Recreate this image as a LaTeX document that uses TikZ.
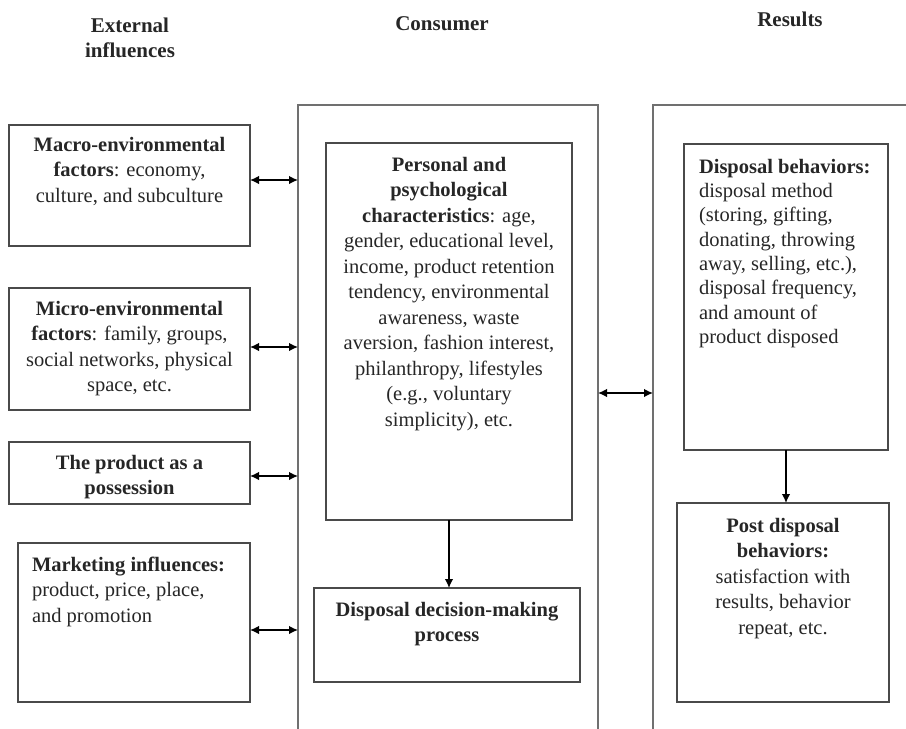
\documentclass[tikz,border=0pt]{standalone}
\usepackage{fontspec}
\setmainfont{Liberation Serif}
\usetikzlibrary{arrows.meta}
\definecolor{boxline}{HTML}{4A4A4A}
\definecolor{bigline}{HTML}{707070}
\definecolor{txtcol}{HTML}{262626}
\begin{document}
\begin{tikzpicture}[x=1pt,y=-1pt,
  every node/.style={inner sep=0pt, outer sep=0pt},
  bx/.style={draw=boxline, line width=1.3pt, rectangle},
  region/.style={rectangle},
  txt/.style={text=txtcol, font=\fontsize{20.5}{25.5}\selectfont, align=center, anchor=north},
  ltxt/.style={text=txtcol, font=\fontsize{20.5}{25.5}\selectfont, align=left, anchor=north west},
  head/.style={text=txtcol, font=\fontsize{21}{25}\selectfont\bfseries, align=center, anchor=north},
  dbl/.style={draw=black, line width=1.4pt, {Latex[length=9pt,width=8.5pt]}-{Latex[length=9pt,width=8.5pt]}},
  sgl/.style={draw=black, line width=1.4pt, -{Latex[length=9pt,width=8.5pt]}},
  bigside/.style={draw=bigline, line width=1.6pt}
]
\useasboundingbox (0,0) rectangle (906,729);

% headers
\node[head] (hext) at (130,18) {External\\influences};
\node[head] (hcons) at (442,17) {Consumer};
\node[head] (hres) at (790,12) {Results};

% big regions
\node[region, minimum width=300pt, minimum height=624pt] (cons) at (448,417) {};
\node[region, minimum width=260pt, minimum height=624pt] (res) at (783,417) {};
\draw[bigside] (cons.south west) -- (cons.north west) -- (cons.north east) -- (cons.south east);
\draw[bigside] (res.south west) -- (res.north west) -- (res.north east);

% left boxes
\node[bx, minimum width=241pt, minimum height=121pt] (macro) at (129.5,185.5) {};
\node[bx, minimum width=241pt, minimum height=122pt] (micro) at (129.5,349) {};
\node[bx, minimum width=241pt, minimum height=62pt] (prod) at (129.5,473) {};
\node[bx, minimum width=232pt, minimum height=159pt] (mkt) at (134,622.5) {};

\node[txt] (macrot) at ([yshift=-12pt]macro.north) {\textbf{Macro-environmental}\\\textbf{factors}: economy,\\culture, and subculture};
\node[txt] (microt) at ([yshift=-13pt]micro.north) {\textbf{Micro-environmental}\\\textbf{factors}: family, groups,\\social networks, physical\\space, etc.};
\node[txt] (prodt) at ([yshift=-13pt]prod.north) {\textbf{The product as a}\\\textbf{possession}};
\node[ltxt] (mktt) at ([xshift=14pt,yshift=-14pt]mkt.north west) {\textbf{Marketing influences:}\\product, price, place,\\and promotion};

% consumer boxes
\node[bx, minimum width=246pt, minimum height=377pt] (pers) at (449,331.5) {};
\node[bx, minimum width=266pt, minimum height=94pt] (dec) at (447,635) {};
\node[txt] (perst) at ([yshift=-14pt]pers.north) {\textbf{Personal and}\\\textbf{psychological}\\\textbf{characteristics}: age,\\gender, educational level,\\income, product retention\\tendency, environmental\\awareness, waste\\aversion, fashion interest,\\philanthropy, lifestyles\\(e.g., voluntary\\simplicity), etc.};
\node[txt] (dect) at ([yshift=-14pt]dec.north) {\textbf{Disposal decision-making}\\\textbf{process}};

% results boxes
\node[bx, minimum width=204pt, minimum height=306pt] (disp) at (786,297) {};
\node[bx, minimum width=212pt, minimum height=199pt] (post) at (783,602.5) {};
\node[ltxt, font=\fontsize{20.5}{24.3}\selectfont] (dispt) at ([xshift=15pt,yshift=-15pt]disp.north west) {\textbf{Disposal behaviors:}\\disposal method\\(storing, gifting,\\donating, throwing\\away, selling, etc.),\\disposal frequency,\\and amount of\\product disposed};
\node[txt] (postt) at ([yshift=-15pt]post.north) {\textbf{Post disposal}\\\textbf{behaviors:}\\satisfaction with\\results, behavior\\repeat, etc.};

% connectors
\coordinate (c1) at ([yshift=5.5pt]macro.east);
\coordinate (c2) at ([yshift=2pt]micro.east);
\coordinate (c3) at ([yshift=-3pt]prod.east);
\coordinate (c4) at ([yshift=-7.5pt]mkt.east);
\coordinate (c5) at ([yshift=24pt]cons.east);
\draw[dbl] (c1) -- (c1 -| cons.west);
\draw[dbl] (c2) -- (c2 -| cons.west);
\draw[dbl] (c3) -- (c3 -| cons.west);
\draw[dbl] (c4) -- (c4 -| cons.west);
\draw[dbl] (c5) -- (c5 -| res.west);
\draw[sgl] (pers.south) -- (pers.south |- dec.north);
\draw[sgl] (disp.south) -- (disp.south |- post.north);
\end{tikzpicture}
\end{document}
